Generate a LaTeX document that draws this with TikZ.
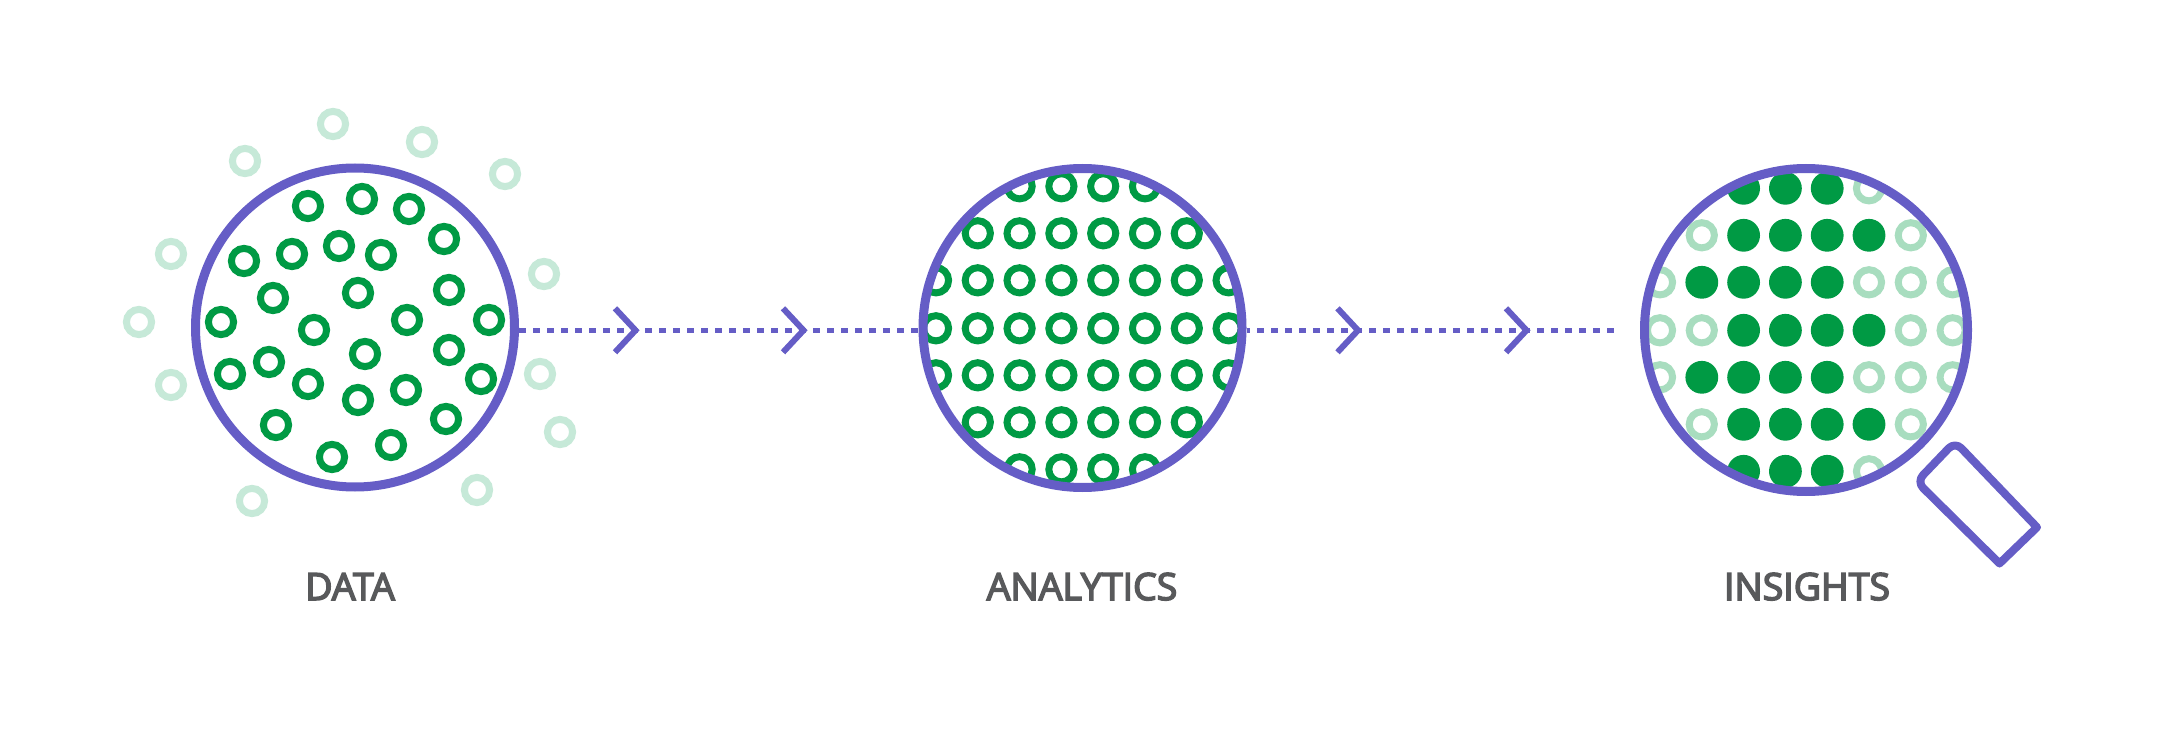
\documentclass[tikz,border=0pt]{standalone}
\usepackage{fontspec}
\newfontfamily\labelfont{Open Sans}[FakeBold=4]
\definecolor{flowpurple}{HTML}{655DC6}
\definecolor{dotgreen}{HTML}{009A44}
\definecolor{palegreen}{HTML}{C6E9D8}
\definecolor{midgreen}{HTML}{A8DDBF}
\definecolor{labelgray}{HTML}{58595B}
\tikzset{
    lens/.style={circle,draw=flowpurple,line width=9pt,inner sep=0pt},
    ringdot/.style={draw=dotgreen,line width=7pt,fill=white},
    palering/.style={draw=palegreen,line width=7pt,fill=white},
    midring/.style={draw=midgreen,line width=7pt,fill=white},
    soliddot/.style={fill=dotgreen},
    flowline/.style={draw=flowpurple,line width=5pt,dash pattern=on 7pt off 7pt},
    chevron/.style={draw=flowpurple,line width=6pt},
    steplabel/.style={text=labelgray,font=\fontsize{37.5}{37.5}\labelfont,inner sep=0pt,anchor=base}
}

\begin{document}
\begin{tikzpicture}[x=1pt,y=-1pt]
    \useasboundingbox (0,0) rectangle (2166,735);
    \coordinate (flow) at (0,330.3);
    \coordinate (flowend) at (1614,330.3);
    \coordinate (datamid) at (355,327.5);
    \coordinate (analyticsmid) at (1082.5,328);
    \coordinate (insightsmid) at (1806,330);

    % data
    \foreach \x/\y in {333/124,245/161,422/142,505/174,171/254,544/274,139/322,171/385,540/374,560/432,477/490,252/501}
        \draw[palering] (\x,\y) circle (12.6);
    \foreach \x/\y in {308/206,362/199,409/209,444/239,244/261,292/254,339/246,381/255,273/298,358/293,449/290,221/322,314/330,407/320,489/320,365/354,449/350,269/362,230/374,308/384,358/400,406/390,481/379,276/425,446/419,332/457,391/445}
        \draw[ringdot] (\x,\y) circle (12.6);

    % analytics
    \begin{scope}
        \clip (analyticsmid) circle (160);
        \foreach \y/\cols in {186.3/{2,3,4,5},233.3/{1,2,3,4,5,6},280.3/{0,1,2,3,4,5,6,7},328.3/{0,1,2,3,4,5,6,7},375.3/{0,1,2,3,4,5,6,7},422.3/{1,2,3,4,5,6},469.3/{2,3,4,5}}
            \foreach \c in \cols
                \draw[ringdot] (936+41.8*\c,\y) circle (12.6);
    \end{scope}

    % insights
    \begin{scope}
        \clip (insightsmid) circle (161);
        \foreach \y/\cols in {188.3/{5},235.3/{1,6},282.3/{0,5,6,7},330.3/{0,1,6,7},377.3/{0,5,6,7},424.3/{1,6},471.3/{5}}
            \foreach \c in \cols
                \draw[midring] (1660+41.8*\c,\y) circle (12.6);
        \foreach \y/\cols in {188.3/{2,3,4},235.3/{2,3,4,5},282.3/{1,2,3,4},330.3/{2,3,4,5},377.3/{1,2,3,4},424.3/{2,3,4,5},471.3/{2,3,4}}
            \foreach \c in \cols
                \fill[soliddot] (1660+41.8*\c,\y) circle (16.4);
    \end{scope}

    \node[lens,minimum size=319pt] (data) at (datamid) {};
    \node[lens,minimum size=319pt] (analytics) at (analyticsmid) {};
    \node[lens,minimum size=323pt] (insights) at (insightsmid) {};
    \draw[draw=flowpurple,line width=8pt,line join=round] (2037,527.3) [rounded corners=9pt] -- (1955,441.7) -- (1916.7,481.7) [sharp corners] -- (1999.5,563.5) -- cycle;

    \draw[flowline] (data.east |- flow) -- (analytics.west |- flow);
    \draw[flowline,dash phase=3.5pt] (analytics.east |- flow) -- (flowend);
    \foreach \x in {635.5,803.5,1358,1526.5}
        \draw[chevron] (\x-20.5,308.3) -- (\x,330.3) -- (\x-20.5,352.3);

    \node[steplabel] (datalabel) at (350,600) {DATA};
    \node[steplabel] (analyticslabel) at (1082,600) {ANALYTICS};
    \node[steplabel] (insightslabel) at (1807,600) {INSIGHTS};
\end{tikzpicture}
\end{document}
